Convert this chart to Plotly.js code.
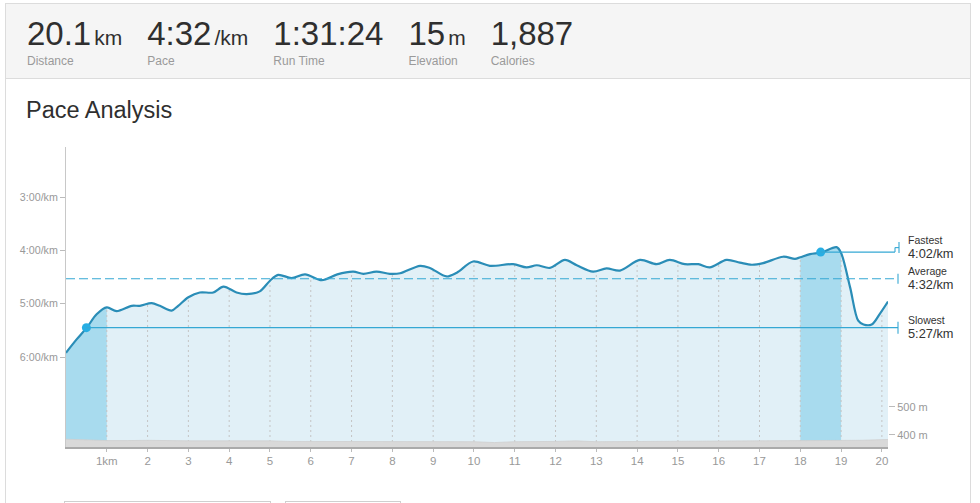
<!DOCTYPE html>
<html>
<head>
<meta charset="utf-8">
<script src="https://cdn.plot.ly/plotly-3.0.1.min.js"></script>
<style>
  html, body { margin:0; padding:0; background:#fff; }
  body { width:980px; height:503px; position:relative; overflow:hidden;
         font-family: Arial, "Liberation Sans", Helvetica, sans-serif; }
  #card { position:absolute; left:5px; top:3px; width:966px; height:560px;
          border:1px solid #dcdcdc; background:#fff; box-sizing:border-box; }
  #head { position:absolute; left:0; top:0; right:0; height:74px;
          background:#f5f5f5; border-bottom:1px solid #dcdcdc; }
  #stats { position:absolute; left:21px; top:13px; display:flex; }
  .stat { margin-right:25px; }
  .num { font-size:33px; line-height:33px; height:33px; color:#2f2f2f; white-space:nowrap; }
  .unit { font-size:21px; line-height:0; margin-left:3px; color:#2f2f2f; }
  .lab { font-size:12px; line-height:12px; color:#9a9a9a; margin-top:5px;
         font-family:"Liberation Sans Narrow", "Arial Narrow", Arial, sans-serif; }
  #title { position:absolute; left:26px; top:99px; font-size:23.5px; line-height:23.5px; color:#2f2f2f; }
  .btn { position:absolute; top:501px; height:30px; border:1px solid #cfcfcf; box-sizing:border-box; }
  #chart { position:absolute; left:0; top:0; width:980px; height:503px; }
</style>
</head>
<body>
<div id="card"><div id="head"><div id="stats"></div></div></div>
<div id="title">Pace Analysis</div>
<div class="btn" style="left:64px;width:207px;"></div>
<div class="btn" style="left:285px;width:116px;"></div>
<div id="chart"></div>
<script>
// ---------- header stats ----------
const statValues = ['20.1', '4:32', '1:31:24', '15', '1,887'];
const statUnits  = ['km', '/km', '', 'm', ''];
const statLabels = ['Distance', 'Pace', 'Run Time', 'Elevation', 'Calories'];

// ---------- pace profile (distance km, pace in minutes per km) ----------
const paceDist = [0.00, 0.26, 0.51, 0.75, 1.00, 1.24, 1.61, 1.81, 2.10, 2.30, 2.59, 2.75, 3.00, 3.28, 3.61, 3.86,
  4.18, 4.43, 4.75, 5.00, 5.20, 5.53, 5.86, 6.27, 6.65, 7.04, 7.29, 7.61, 7.94, 8.19, 8.68, 8.92, 9.33, 9.58,
  9.98, 10.39, 10.96, 11.29, 11.54, 11.86, 12.23, 12.52, 12.92, 13.25, 13.58, 14.07, 14.48, 14.80, 15.17,
  15.50, 15.78, 16.19, 16.52, 16.81, 17.09, 17.58, 17.87, 18.00, 18.24, 18.52, 18.89, 19.00, 19.22, 19.42,
  19.55, 19.75, 19.95, 20.15];
const paceMin = [5.92, 5.67, 5.45, 5.20, 5.07, 5.14, 5.04, 5.04, 4.99, 5.04, 5.13, 5.04, 4.88, 4.79, 4.79, 4.68,
  4.79, 4.82, 4.77, 4.57, 4.46, 4.52, 4.45, 4.56, 4.45, 4.40, 4.44, 4.40, 4.44, 4.43, 4.29, 4.33, 4.49, 4.42,
  4.21, 4.29, 4.26, 4.32, 4.28, 4.33, 4.18, 4.28, 4.40, 4.34, 4.38, 4.18, 4.26, 4.18, 4.26,
  4.26, 4.32, 4.18, 4.23, 4.27, 4.24, 4.12, 4.16, 4.13, 4.07, 4.04, 3.94, 4.05, 4.69, 5.32,
  5.39, 5.39, 5.19, 4.96];

// ---------- elevation profile (distance km, metres) ----------
const elevDist = [0, 0.5, 1, 1.5, 2, 3, 4, 5, 5.5, 6, 7, 8, 9, 10, 10.5, 11, 12, 12.5, 13, 14, 15, 16, 17, 17.5, 18, 19, 19.5, 20.15];
const elevM    = [385, 382, 380, 380, 381, 379, 380, 379, 377, 377, 376, 377, 376, 376, 373, 376, 377, 379, 376, 377, 376, 377, 378, 380, 381, 382, 381, 384];

// ---------- axes ticks ----------
const xTickVals  = [1,2,3,4,5,6,7,8,9,10,11,12,13,14,15,16,17,18,19,20];
const xTickText  = ['1km','2','3','4','5','6','7','8','9','10','11','12','13','14','15','16','17','18','19','20'];
const yTickVals  = [3, 4, 5, 6];
const yTickText  = ['3:00/km', '4:00/km', '5:00/km', '6:00/km'];
const y2TickVals = [400, 500];
const y2TickText = ['400 m', '500 m'];

// ---------- split markers ----------
const markNames  = ['Fastest', 'Average', 'Slowest'];
const markPace   = [4 + 2/60, 4 + 32/60, 5 + 27/60];
const markLabels = ['4:02/km', '4:32/km', '5:27/km'];
const fastestKm  = [18, 19];
const slowestKm  = [0, 1];
const fastestDotKm = 18.5;
const slowestDotKm = 0.5;

// build header
const stats = document.getElementById('stats');
statValues.forEach((v, i) => {
  const d = document.createElement('div');
  d.className = 'stat';
  d.innerHTML = '<div class="num">' + v + (statUnits[i] ? '<span class="unit">' + statUnits[i] + '</span>' : '') +
                '</div><div class="lab">' + statLabels[i] + '</div>';
  stats.appendChild(d);
});

// ---------- chart ----------
const Y_TOP = 2.0625, Y_BOT = 7.6875;          // visible pace range (reversed axis)
const X_MAX = paceDist[paceDist.length - 1];
const PLOT_W = 822, PLOT_H = 300;
const minPerPx = (Y_BOT - Y_TOP) / PLOT_H;
const spline = {shape: 'spline', smoothing: 0.9};

function baseline(xs, v) {
  return {x: xs, y: xs.map(() => v), mode: 'lines', line: {width: 0}, hoverinfo: 'skip', showlegend: false};
}
function segment(range) {
  const xs = [], ys = [];
  paceDist.forEach((d, i) => { if (d >= range[0] - 1e-9 && d <= range[1] + 1e-9) { xs.push(d); ys.push(paceMin[i]); } });
  return {xs, ys};
}
const slowSeg = segment(slowestKm), fastSeg = segment(fastestKm);

// dotted km grid lines, drawn as one trace so they sit above the fills
const gridX = [], gridY = [];
xTickVals.forEach(k => { gridX.push(k, k, null); gridY.push(Y_BOT, Y_TOP, null); });

const LIGHT = '#e1f0f7', DARK = '#a8dbee', LINE = '#2a8db7', DOT = '#27aee3', GUIDE = '#35a8d4';

const traces = [
  baseline(paceDist, Y_BOT),
  {x: paceDist, y: paceMin, mode: 'lines', line: Object.assign({width: 0}, spline), fill: 'tonexty', fillcolor: LIGHT, hoverinfo: 'skip', showlegend: false},
  baseline(slowSeg.xs, Y_BOT),
  {x: slowSeg.xs, y: slowSeg.ys, mode: 'lines', line: Object.assign({width: 0}, spline), fill: 'tonexty', fillcolor: DARK, hoverinfo: 'skip', showlegend: false},
  baseline(fastSeg.xs, Y_BOT),
  {x: fastSeg.xs, y: fastSeg.ys, mode: 'lines', line: Object.assign({width: 0}, spline), fill: 'tonexty', fillcolor: DARK, hoverinfo: 'skip', showlegend: false},
  {x: gridX, y: gridY, mode: 'lines', line: {width: 1, color: '#c4c4c4', dash: '2px,3px'}, hoverinfo: 'skip', showlegend: false},
  baseline(paceDist, Y_TOP),
  {x: paceDist, y: paceMin, mode: 'lines', line: Object.assign({width: 0}, spline), fill: 'tonexty', fillcolor: '#ffffff', hoverinfo: 'skip', showlegend: false},
  {x: paceDist, y: paceMin, mode: 'lines', line: Object.assign({width: 2.2, color: LINE}, spline), hoverinfo: 'skip', showlegend: false},
  {x: [slowestDotKm, fastestDotKm], y: [markPace[2], markPace[0]], mode: 'markers',
   marker: {size: 9, color: DOT}, hoverinfo: 'skip', showlegend: false},
  {x: elevDist, y: elevM, yaxis: 'y2', mode: 'lines', line: {width: 0.8, color: '#cfcfcf'}, fill: 'tozeroy',
   fillcolor: '#d9d9d9', hoverinfo: 'skip', showlegend: false}
];

// guide lines (paper x, data y)
const px = k => k / X_MAX;
const endJog = 1 + 7 / PLOT_W, endX = 1 + 11 / PLOT_W, endA = 1 + 10 / PLOT_W;
const fastUp = markPace[0] - 4.5 * minPerPx;
const shapes = [];
function seg(x0, y0, x1, y1, dash) {
  shapes.push({type: 'line', xref: 'paper', yref: 'y', x0, y0, x1, y1, layer: 'above',
               line: {color: GUIDE, width: 1.1, dash: dash || 'solid'}});
}
// fastest
seg(px(fastestDotKm), markPace[0], endJog, markPace[0]);
seg(endJog, markPace[0], endJog, fastUp);
seg(endJog, fastUp, endX, fastUp);
seg(endX, fastUp - 5.5 * minPerPx, endX, fastUp + 5.5 * minPerPx);
// average
seg(0, markPace[1], endA, markPace[1], '9px,4px');
seg(endA, markPace[1] - 5 * minPerPx, endA, markPace[1] + 5 * minPerPx);
// slowest
seg(px(slowestDotKm), markPace[2], endA, markPace[2]);
seg(endA, markPace[2] - 6 * minPerPx, endA, markPace[2] + 6 * minPerPx);

const labelCenters = [fastUp, markPace[1], markPace[2]];
const annotations = [];
const labX = 1 + 18 / PLOT_W;
markNames.forEach((n, i) => {
  annotations.push({xref: 'paper', yref: 'y', x: labX, y: labelCenters[i], yshift: 7.5, text: n,
    showarrow: false, xanchor: 'left', yanchor: 'middle', font: {size: 10.5, color: '#333'}});
  annotations.push({xref: 'paper', yref: 'y', x: labX, y: labelCenters[i], yshift: -6, text: markLabels[i],
    showarrow: false, xanchor: 'left', yanchor: 'middle', font: {size: 12.8, color: '#333'}});
});

const layout = {
  width: 980, height: 503,
  margin: {l: 66, r: 92, t: 147, b: 56, pad: 0},
  paper_bgcolor: 'rgba(0,0,0,0)', plot_bgcolor: 'rgba(0,0,0,0)',
  font: {family: 'Arial, "Liberation Sans", sans-serif', color: '#999'},
  showlegend: false,
  xaxis: {range: [0, X_MAX], tickmode: 'array', tickvals: xTickVals, ticktext: xTickText,
          showgrid: false,
          ticks: 'outside', ticklen: 3, tickcolor: '#bbb', showline: true, linecolor: '#aaa', linewidth: 1.5,
          zeroline: false, tickfont: {size: 11.5, color: '#999'}, fixedrange: true},
  yaxis: {range: [Y_BOT, Y_TOP], tickmode: 'array', tickvals: yTickVals, ticktext: yTickText,
          showgrid: false, zeroline: false, showline: true, linecolor: '#c8c8c8', linewidth: 1,
          ticks: 'outside', ticklen: 5, tickcolor: '#bbb', tickfont: {size: 10.7, color: '#999'}, fixedrange: true},
  yaxis2: {overlaying: 'y', side: 'right', anchor: 'x', range: [357.1, 1428.6], tickmode: 'array',
           tickvals: y2TickVals, ticktext: y2TickText, showgrid: false, zeroline: false, showline: false,
           ticks: 'outside', ticklen: 6, tickcolor: '#bbb', tickfont: {size: 11, color: '#999'}, fixedrange: true},
  shapes, annotations
};

Plotly.newPlot('chart', traces, layout, {staticPlot: true, displayModeBar: false});
</script>
</body>
</html>
